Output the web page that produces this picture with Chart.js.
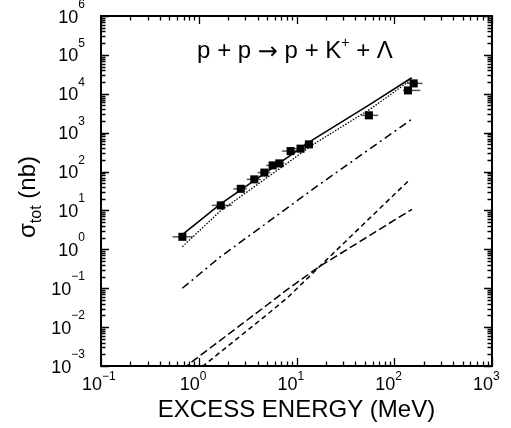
<!DOCTYPE html>
<html>
<head>
<meta charset="utf-8">
<script src="https://cdn.jsdelivr.net/npm/chart.js@4"></script>
<style>
html,body{margin:0;padding:0;background:#fff;}
#wrap{width:511px;height:428px;}
</style>
</head>
<body>
<div id="wrap"><canvas id="c" width="511" height="428"></canvas></div>
<script>
// ---- data ----
const energy = [0.68, 1.68, 2.69, 3.7, 4.69, 5.7, 6.67, 8.7, 11.0, 13.4, 55, 138, 158];
const sigma  = [2.1, 13.5, 36, 63, 94, 144, 162, 336, 388, 500, 2790, 12200, 18500];
const energyLo = [0.54, 1.36, 2.26, 3.1, 4.0, 4.9, 5.9, 7.1, 9.6, 11.9, 46.4, 123, 135];
const energyHi = [0.87, 2.17, 3.1, 4.3, 5.4, 6.6, 7.5, 10.4, 12.5, 15.0, 68.6, 185, 195];

const solidE = [0.68, 1.65, 14.9, 56.5, 151];
const solidS = [2.4, 14.4, 670, 5350, 25900];
const dottedE = [0.68, 1.65, 14.9, 56.5, 151];
const dottedS = [1.17, 9.5, 500, 4000, 23500];
const dashDotE = [0.68, 1.65, 16.2, 154];
const dashDotS = [0.1, 0.63, 42, 2290];
const longDashE = [0.68, 1, 2, 5, 8.6, 17.4, 50, 100, 152];
const longDashS = [8.3e-4, 1.74e-3, 6.5e-3, 0.037, 0.105, 0.37, 1.9, 5.6, 10.7];
const shortDashE = [0.68, 1, 2, 5, 8.2, 17.4, 50, 100, 145];
const shortDashS = [3.7e-4, 8.1e-4, 3.3e-3, 0.021, 0.059, 0.37, 4.8, 25.7, 63];

const xTickExp = [-1, 0, 1, 2, 3];
const yTickExp = [-3, -2, -1, 0, 1, 2, 3, 4, 5, 6];
// reaction label pieces: [text, role]
const reactionLabel = [['p + p ', 'n'], ['\u2192', 'arrow'], [' p + K', 'n'], ['+', 'sup'], [' + \u039B', 'n']];
const xTitle = 'EXCESS ENERGY (MeV)';
const yTitle = ['\u03C3', 'tot', ' (nb)'];

const FONT = '"Liberation Sans", Arial, Helvetica, sans-serif';
const pts = (xs, ys) => xs.map((x, i) => ({x: x, y: ys[i]}));

function lineDS(xs, ys, dash, w) {
  return {type: 'line', data: pts(xs, ys), borderColor: '#000', borderWidth: w,
    borderDash: dash, pointRadius: 0, fill: false, tension: 0, showLine: true, order: 2};
}

const errorBars = {
  id: 'errorBars',
  beforeDatasetsDraw(chart) {
    const {ctx, scales: {x, y}} = chart;
    ctx.save();
    ctx.strokeStyle = '#555';
    ctx.lineWidth = 1.5;
    energy.forEach((e, i) => {
      const py = y.getPixelForValue(sigma[i]);
      ctx.beginPath();
      ctx.moveTo(x.getPixelForValue(energyLo[i]), py);
      ctx.lineTo(x.getPixelForValue(energyHi[i]), py);
      ctx.stroke();
    });
    ctx.restore();
  }
};

function powParts(ctx, exp) {
  const base = '10';
  const ex = (exp < 0 ? '\u2212' : '') + Math.abs(exp);
  ctx.font = '18px ' + FONT;
  const wb = ctx.measureText(base).width;
  ctx.font = '12px ' + FONT;
  const we = ctx.measureText(ex).width;
  return {wb, we, base, ex};
}

const frameAxes = {
  id: 'frameAxes',
  afterDraw(chart) {
    const {ctx, chartArea: a, scales: {x, y}} = chart;
    ctx.save();
    ctx.strokeStyle = '#000';
    ctx.lineWidth = 1.3;
    const minorX = [], majorX = [], minorY = [], majorY = [];
    for (let d = -1; d <= 3; d++) {
      majorX.push(Math.pow(10, d));
      if (d < 3) for (let m = 2; m <= 9; m++) minorX.push(m * Math.pow(10, d));
    }
    for (let d = -3; d <= 6; d++) {
      majorY.push(Math.pow(10, d));
      if (d < 6) for (let m = 2; m <= 9; m++) minorY.push(m * Math.pow(10, d));
    }
    const tick = (vals, len, isX) => {
      ctx.beginPath();
      vals.forEach(v => {
        if (isX) {
          const px = Math.round(x.getPixelForValue(v)) + 0.5;
          ctx.moveTo(px, a.bottom); ctx.lineTo(px, a.bottom - len);
          ctx.moveTo(px, a.top); ctx.lineTo(px, a.top + len);
        } else {
          const py = Math.round(y.getPixelForValue(v)) + 0.5;
          ctx.moveTo(a.left, py); ctx.lineTo(a.left + len, py);
          ctx.moveTo(a.right, py); ctx.lineTo(a.right - len, py);
        }
      });
      ctx.stroke();
    };
    tick(minorX, 4.5, true); tick(majorX, 8, true);
    tick(minorY, 4.5, false); tick(majorY, 8, false);
    ctx.lineWidth = 2;
    ctx.strokeRect(a.left, a.top, a.right - a.left, a.bottom - a.top);

    ctx.fillStyle = '#000';
    ctx.textBaseline = 'alphabetic';
    ctx.textAlign = 'left';
    xTickExp.forEach(e => {
      const px = x.getPixelForValue(Math.pow(10, e));
      const m = powParts(ctx, e);
      ctx.font = '18px ' + FONT;
      ctx.fillText(m.base, px - m.wb + 1, 390);
      ctx.font = '12px ' + FONT;
      ctx.fillText(m.ex, px + 1, 380);
    });
    yTickExp.forEach(e => {
      const py = y.getPixelForValue(Math.pow(10, e));
      const m = powParts(ctx, e);
      const right = 85;
      ctx.font = '12px ' + FONT;
      ctx.fillText(m.ex, right - m.we, py - 8);
      ctx.font = '18px ' + FONT;
      ctx.fillText(m.base, right - m.we - m.wb, py + 6.5);
    });
    ctx.font = '24px ' + FONT;
    ctx.textAlign = 'center';
    ctx.fillText(xTitle, 296.5, 417);
    ctx.save();
    ctx.translate(35, 197);
    ctx.rotate(-Math.PI / 2);
    ctx.textAlign = 'left';
    ctx.font = '24px ' + FONT;
    const w0 = ctx.measureText(yTitle[0]).width;
    const w2 = ctx.measureText(yTitle[2]).width;
    ctx.font = '16px ' + FONT;
    const w1 = ctx.measureText(yTitle[1]).width;
    let sx = -(w0 + w1 + w2) / 2;
    ctx.font = '24px ' + FONT;
    ctx.fillText(yTitle[0], sx, 0);
    ctx.font = '16px ' + FONT;
    ctx.fillText(yTitle[1], sx + w0, 6);
    ctx.font = '24px ' + FONT;
    ctx.fillText(yTitle[2], sx + w0 + w1, 0);
    ctx.restore();
    // reaction label
    ctx.textAlign = 'left';
    const fontFor = r => r === 'sup' ? '14px ' + FONT : (r === 'arrow' ? '24px "DejaVu Sans"' : '24px ' + FONT);
    let total = 0;
    const widths = reactionLabel.map(([t, r]) => { ctx.font = fontFor(r); const w = ctx.measureText(t).width; total += w; return w; });
    let rx = 295 - total / 2;
    reactionLabel.forEach(([t, r], i) => {
      ctx.font = fontFor(r);
      ctx.fillText(t, rx, r === 'sup' ? 47 : (r === 'arrow' ? 59 : 58));
      rx += widths[i];
    });
    ctx.restore();
  }
};

new Chart(document.getElementById('c'), {
  type: 'scatter',
  data: {
    datasets: [
      {type: 'scatter', data: pts(energy, sigma), pointStyle: 'rect', pointRadius: 5.7,
       backgroundColor: '#000', borderColor: '#000', borderWidth: 0, order: 1},
      lineDS(solidE, solidS, [], 1.6),
      lineDS(dottedE, dottedS, [1.5, 1.5], 1.3),
      lineDS(dashDotE, dashDotS, [8, 4, 2, 4], 1.5),
      lineDS(longDashE, longDashS, [8, 3.5], 1.5),
      lineDS(shortDashE, shortDashS, [5, 3.5], 1.5)
    ]
  },
  options: {
    responsive: false,
    devicePixelRatio: 1,
    animation: false,
    layout: {padding: {left: 101, top: 16, right: 19, bottom: 62}},
    plugins: {legend: {display: false}, tooltip: {enabled: false}, title: {display: false}},
    scales: {
      x: {type: 'logarithmic', min: 0.1, max: 1000, display: false},
      y: {type: 'logarithmic', min: 1e-3, max: 1e6, display: false}
    }
  },
  plugins: [errorBars, frameAxes]
});
</script>
</body>
</html>
